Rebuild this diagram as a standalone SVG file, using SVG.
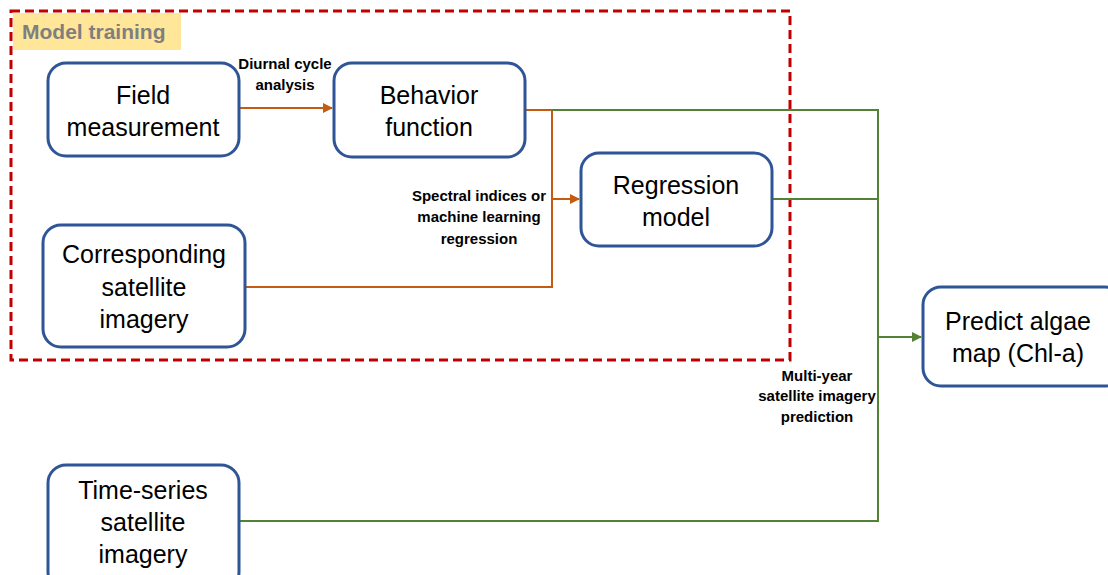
<svg xmlns="http://www.w3.org/2000/svg" width="1108" height="575" viewBox="0 0 1108 575">
  <defs>
    <style>
      .node { fill: #ffffff; stroke: #2F5597; stroke-width: 3; }
      .ntext { font-family: "Liberation Sans", Arial, sans-serif; font-size: 25px; fill: #000000; text-anchor: middle; }
      .lbl { font-family: "Liberation Sans", Arial, sans-serif; font-size: 15px; font-weight: bold; fill: #000000; text-anchor: middle; }
      .orange { fill: none; stroke: #C55A11; stroke-width: 2; }
      .green { fill: none; stroke: #548235; stroke-width: 2; }
    </style>
    <marker id="arrowOrange" viewBox="0 0 10 10" refX="9" refY="5" markerWidth="5" markerHeight="5" orient="auto" markerUnits="strokeWidth">
      <path d="M0,0 L10,5 L0,10 z" fill="#C55A11"/>
    </marker>
    <marker id="arrowGreen" viewBox="0 0 10 10" refX="9" refY="5" markerWidth="5" markerHeight="5" orient="auto" markerUnits="strokeWidth">
      <path d="M0,0 L10,5 L0,10 z" fill="#548235"/>
    </marker>
  </defs>

  <rect width="1108" height="575" fill="#ffffff"/>

  <!-- Training region -->
  <g id="model-training">
    <rect x="13" y="13" width="168" height="37" fill="#FFE699"/>
    <rect x="11" y="11" width="779" height="349" fill="none" stroke="#C00000" stroke-width="3" stroke-dasharray="9,5"/>
    <text x="22" y="39" font-family="'Liberation Sans', Arial, sans-serif" font-size="21" font-weight="bold" fill="#7F7F7F">Model training</text>
  </g>

  <!-- Connectors -->
  <g id="connectors">
    <path class="orange" d="M239,108 L332,108" marker-end="url(#arrowOrange)"/>
    <path class="orange" d="M525,110 L552,110 L552,287 L245,287"/>
    <path class="orange" d="M552,199 L579,199" marker-end="url(#arrowOrange)"/>
    <path class="green" d="M552,110 L878,110 L878,521 L239,521"/>
    <path class="green" d="M772,199 L878,199"/>
    <path class="green" d="M878,337 L921,337" marker-end="url(#arrowGreen)"/>
  </g>

  <!-- Connector labels -->
  <g id="labels">
    <text class="lbl" x="285" y="69">Diurnal cycle</text>
    <text class="lbl" x="285" y="90">analysis</text>
    <text class="lbl" x="479" y="201">Spectral indices or</text>
    <text class="lbl" x="479" y="222">machine learning</text>
    <text class="lbl" x="479" y="244">regression</text>
    <text class="lbl" x="817" y="381">Multi-year</text>
    <text class="lbl" x="817" y="401">satellite imagery</text>
    <text class="lbl" x="817" y="422">prediction</text>
  </g>

  <g id="field-measurement">
    <rect class="node" x="48" y="63" width="191" height="93" rx="18"/>
    <text class="ntext" x="143" y="104">Field</text>
    <text class="ntext" x="143" y="136">measurement</text>
  </g>

  <g id="behavior-function">
    <rect class="node" x="334" y="63" width="191" height="94" rx="18"/>
    <text class="ntext" x="429" y="104">Behavior</text>
    <text class="ntext" x="429" y="136">function</text>
  </g>

  <g id="regression-model">
    <rect class="node" x="581" y="153" width="191" height="93" rx="18"/>
    <text class="ntext" x="676" y="194">Regression</text>
    <text class="ntext" x="676" y="226">model</text>
  </g>

  <g id="corresponding-imagery">
    <rect class="node" x="43" y="225" width="202" height="122" rx="18"/>
    <text class="ntext" x="144" y="263">Corresponding</text>
    <text class="ntext" x="144" y="296">satellite</text>
    <text class="ntext" x="144" y="328">imagery</text>
  </g>

  <g id="predict-algae-map">
    <rect class="node" x="923" y="287" width="200" height="99" rx="18"/>
    <text class="ntext" x="1018" y="330">Predict algae</text>
    <text class="ntext" x="1018" y="362">map (Chl-a)</text>
  </g>

  <g id="time-series-imagery">
    <rect class="node" x="48" y="465" width="191" height="125" rx="18"/>
    <text class="ntext" x="143" y="499">Time-series</text>
    <text class="ntext" x="143" y="531">satellite</text>
    <text class="ntext" x="143" y="563">imagery</text>
  </g>
</svg>
